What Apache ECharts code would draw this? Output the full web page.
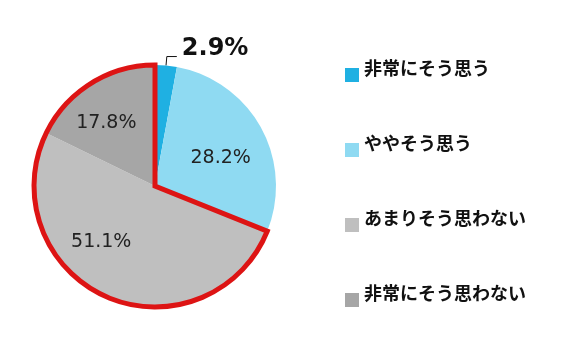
<!DOCTYPE html>
<html><head><meta charset="utf-8">
<script src="https://cdn.jsdelivr.net/npm/echarts@6/dist/echarts.min.js"></script>
<style>html,body{margin:0;padding:0;background:#fff}#c{width:569px;height:358px}</style>
</head><body><div id="c"></div>
<script>
const categories = ['非常にそう思う', 'ややそう思う', 'あまりそう思わない', '非常にそう思わない'];
const values = [2.9, 28.2, 51.1, 17.8];
const colors = ['#1FB0E2', '#8FDAF2', '#BFBFBF', '#A6A6A6'];
// label offsets (style, not data)
const labelOffsets = [[0, 0], [10, 3], [-28, -2], [-15, -9]];

const positiveSum = values[0] + values[1];
const negativeSum = values[2] + values[3];

const fontFam = '"Noto Sans CJK JP", "Noto Sans", sans-serif';
const numFam = '"DejaVu Sans", sans-serif';

const mainData = categories.map((c, i) => {
  const item = { name: c, value: values[i], itemStyle: { color: colors[i] } };
  if (i === 0) {
    item.label = {
      show: true, position: 'outside', fontSize: 24, fontWeight: 'bold', color: '#111', fontFamily: numFam,
      formatter: p => p.value.toFixed(1) + '%', offset: [0, -8]
    };
    item.labelLine = { show: true, length: 9, length2: 10, lineStyle: { color: '#111', width: 1 } };
  } else {
    item.label = { show: true, position: 'inside', offset: labelOffsets[i] };
    item.labelLine = { show: false };
  }
  return item;
});

const chart = echarts.init(document.getElementById('c'));
chart.setOption({
  animation: false,
  backgroundColor: '#fff',
  legend: {
    data: categories,
    orient: 'vertical',
    left: 340,
    top: 54,
    itemWidth: 14,
    itemHeight: 14,
    itemGap: 43,
    icon: 'rect',
    formatter: name => '{t|' + name + '}',
    textStyle: {
      rich: {
        t: { fontSize: 18, lineHeight: 20, fontWeight: 'bold', color: '#111', fontFamily: fontFam, padding: [0, 0, 14, 0] }
      }
    },
    selectedMode: false
  },
  series: [
    {
      type: 'pie',
      center: [155, 186],
      radius: [0, 121],
      startAngle: 90,
      clockwise: true,
      avoidLabelOverlap: false,
      itemStyle: { borderWidth: 0 },
      label: { fontSize: 19, color: '#222', fontFamily: numFam, formatter: p => p.value.toFixed(1) + '%' },
      data: mainData
    },
    {
      type: 'pie',
      center: [155, 186],
      radius: [0, 121],
      startAngle: 90,
      clockwise: true,
      silent: true,
      z: 5,
      label: { show: false },
      labelLine: { show: false },
      data: [
        { name: '_pos', value: positiveSum, itemStyle: { color: 'rgba(0,0,0,0)', borderWidth: 0 } },
        { name: '_neg', value: negativeSum, itemStyle: { color: 'rgba(0,0,0,0)', borderColor: '#DD1414', borderWidth: 5, borderJoin: 'miter' } }
      ]
    }
  ]
});
</script></body></html>
